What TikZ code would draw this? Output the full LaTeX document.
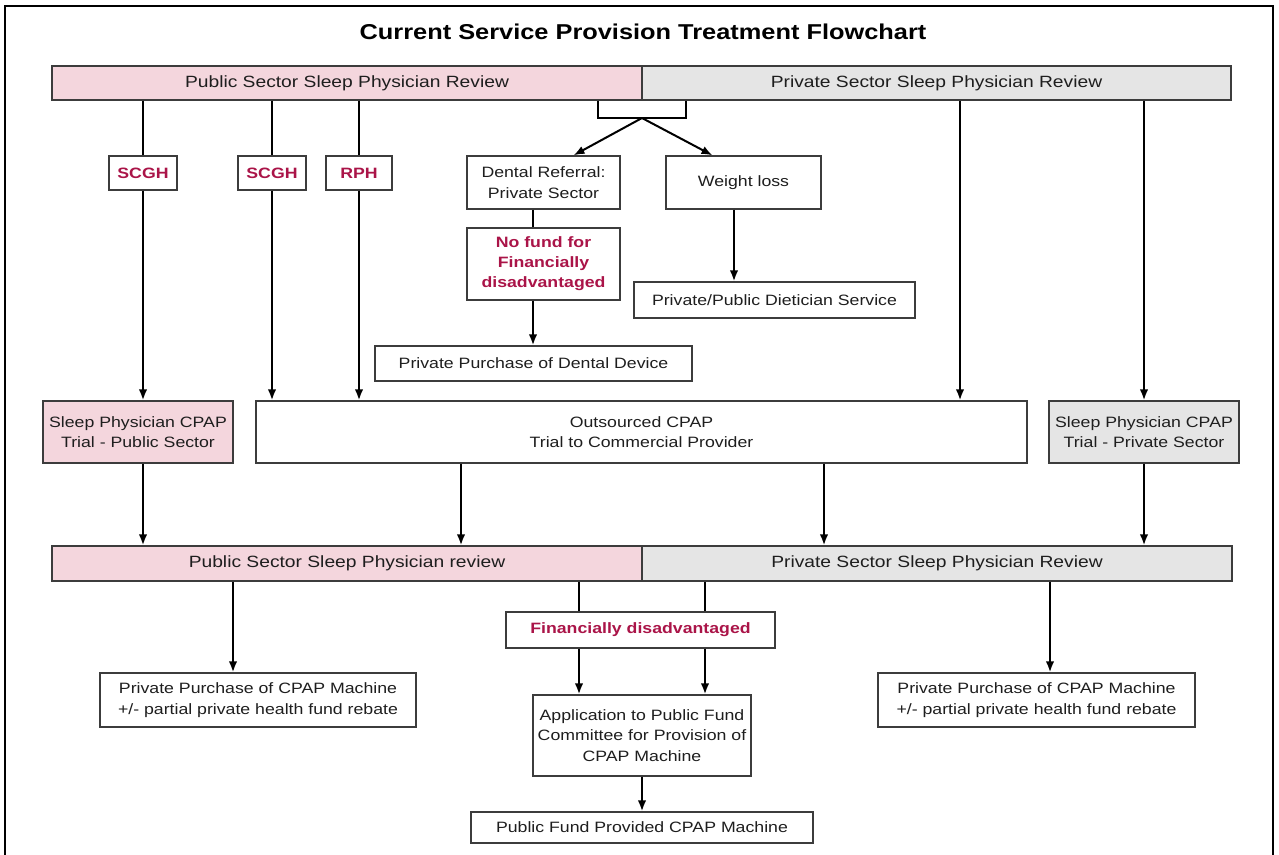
\documentclass[tikz,border=0pt]{standalone}
\usepackage{fontspec}
\setmainfont{Liberation Sans}[FakeStretch=1.18]
\usetikzlibrary{arrows.meta}
\definecolor{pubpink}{RGB}{244,214,221}
\definecolor{privgray}{RGB}{229,229,229}
\definecolor{redtxt}{RGB}{170,20,72}
\definecolor{edgegray}{RGB}{60,60,60}
\definecolor{txt}{RGB}{30,30,30}
\tikzset{
  box/.style={draw=edgegray, line width=1.3pt, fill=white, inner sep=0pt, align=center,
    text=txt, font=\fontsize{15}{20.5}\selectfont},
  redbox/.style={box, text=redtxt, font=\fontsize{15}{20}\selectfont\bfseries},
  bar/.style={box, font=\fontsize{16.3}{20}\selectfont},
  pubbar/.style={bar, fill=pubpink},
  privbar/.style={bar, fill=privgray},
  conn/.style={line width=2pt, black},
  arr/.style={conn, -{Latex[length=11pt,width=8.5pt]}},
}
\begin{document}
\begin{tikzpicture}[x=1pt,y=-1pt]
\useasboundingbox (0,0) rectangle (1279,854);
\fill[white] (0,0) rectangle (1279,854);
\draw[line width=2.5pt, black] (5,858) -- (5,6) -- (1273,6) -- (1273,858);

\node[text=black, font=\fontsize{21.5}{25}\selectfont\bfseries] (title) at (643,32) {Current Service Provision Treatment Flowchart};

% top bars
\node[pubbar, minimum width=590pt, minimum height=34pt] (pubtop) at (347,83) {Public Sector Sleep Physician Review};
\node[privbar, minimum width=589pt, minimum height=34pt] (privtop) at (936.5,83) {Private Sector Sleep Physician Review};

% hospital labels
\node[redbox, minimum width=68pt, minimum height=34pt] (scgh1) at (143,173) {SCGH};
\node[redbox, minimum width=68pt, minimum height=34pt] (scgh2) at (272,173) {SCGH};
\node[redbox, minimum width=66pt, minimum height=34pt] (rph) at (359,173) {RPH};

% dental / weight
\node[box, minimum width=153pt, minimum height=53pt] (dental) at (543.5,182.5) {Dental Referral:\\Private Sector};
\node[box, minimum width=155pt, minimum height=53pt] (weight) at (743.5,182.5) {Weight loss};
\node[redbox, minimum width=153pt, minimum height=72pt] (nofund) at (543.5,264) {No fund for\\Financially\\disadvantaged};
\node[box, minimum width=317pt, minimum height=35pt] (dentaldev) at (533.5,363.5) {Private Purchase of Dental Device};
\node[box, minimum width=281pt, minimum height=36pt] (diet) at (774.5,300) {Private/Public Dietician Service};

% trial row
\node[box, fill=pubpink, minimum width=190pt, minimum height=62pt] (trialpub) at (138,432) {Sleep Physician CPAP\\Trial - Public Sector};
\node[box, minimum width=771pt, minimum height=62pt] (outs) at (641.5,432) {Outsourced CPAP\\Trial to Commercial Provider};
\node[box, fill=privgray, minimum width=190pt, minimum height=62pt] (trialpriv) at (1144,432) {Sleep Physician CPAP\\Trial - Private Sector};

% bottom bars
\node[pubbar, minimum width=590pt, minimum height=35pt] (pubbot) at (347,563.5) {Public Sector Sleep Physician review};
\node[privbar, minimum width=590pt, minimum height=35pt] (privbot) at (937,563.5) {Private Sector Sleep Physician Review};

% outcomes
\node[box, minimum width=316pt, minimum height=54pt] (ppleft) at (258,700) {Private Purchase of CPAP Machine\\+/- partial private health fund rebate};
\node[redbox, minimum width=269pt, minimum height=36pt] (findis) at (640.5,630) {Financially disadvantaged};
\node[box, minimum width=317pt, minimum height=54pt] (ppright) at (1036.5,700) {Private Purchase of CPAP Machine\\+/- partial private health fund rebate};
\node[box, minimum width=218pt, minimum height=81pt] (appl) at (642,735.5) {Application to Public Fund\\Committee for Provision of\\CPAP Machine};
\node[box, minimum width=342pt, minimum height=31pt] (pubfund) at (642,827.5) {Public Fund Provided CPAP Machine};

% column coordinates
\coordinate (c143) at (143,0);
\coordinate (c233) at (233,0);
\coordinate (c461) at (461,0);
\coordinate (c533) at (533,0);
\coordinate (c579) at (579,0);
\coordinate (c705) at (705,0);
\coordinate (c824) at (824,0);
\coordinate (c960) at (960,0);
\coordinate (c1050) at (1050,0);
\coordinate (bl) at (598,118);
\coordinate (br) at (686,118);
\coordinate (apex) at (642,118);

% top connectors
\draw[conn] (scgh1.north |- pubtop.south) -- (scgh1.north);
\draw[conn] (scgh2.north |- pubtop.south) -- (scgh2.north);
\draw[conn] (rph.north |- pubtop.south) -- (rph.north);
\draw[arr] (scgh1.south) -- (c143 |- trialpub.north);
\draw[arr] (scgh2.south) -- (scgh2.south |- outs.north);
\draw[arr] (rph.south) -- (rph.south |- outs.north);

\draw[conn] (bl |- pubtop.south) -- (bl) -- (br) -- (br |- privtop.south);
\draw[arr] (apex) -- ([xshift=30pt]dental.north);
\draw[arr] (apex) -- ([xshift=-31pt]weight.north);
\draw[conn] (c533 |- dental.south) -- (c533 |- nofund.north);
\draw[arr] (c533 |- nofund.south) -- (c533 |- dentaldev.north);
\draw[arr] ([xshift=-9.5pt]weight.south) -- ([xshift=-9.5pt]weight.south |- diet.north);

\draw[arr] (c960 |- privtop.south) -- (c960 |- outs.north);
\draw[arr] (trialpriv.north |- privtop.south) -- (trialpriv.north);

% to bottom bars
\draw[arr] (c143 |- trialpub.south) -- (c143 |- pubbot.north);
\draw[arr] (c461 |- outs.south) -- (c461 |- pubbot.north);
\draw[arr] (c824 |- outs.south) -- (c824 |- privbot.north);
\draw[arr] (trialpriv.south) -- (trialpriv.south |- privbot.north);

% from bottom bars
\draw[arr] (c233 |- pubbot.south) -- (c233 |- ppleft.north);
\draw[conn] (c579 |- pubbot.south) -- (c579 |- findis.north);
\draw[conn] (c705 |- privbot.south) -- (c705 |- findis.north);
\draw[arr] (c579 |- findis.south) -- (c579 |- appl.north);
\draw[arr] (c705 |- findis.south) -- (c705 |- appl.north);
\draw[arr] (c1050 |- privbot.south) -- (c1050 |- ppright.north);
\draw[arr] (appl.south) -- (appl.south |- pubfund.north);
\end{tikzpicture}
\end{document}
